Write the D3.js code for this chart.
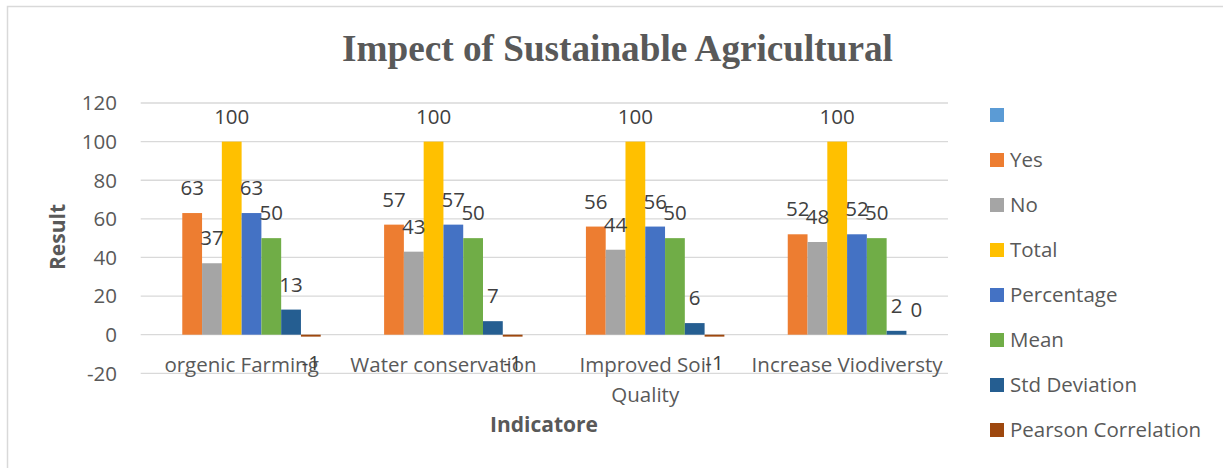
<!DOCTYPE html>
<html>
<head>
<meta charset="utf-8">
<script src="https://cdn.jsdelivr.net/npm/d3@7"></script>
<style>
  html, body { margin: 0; padding: 0; background: #fff; }
  svg { display: block; }
</style>
</head>
<body>
<svg id="chart" width="1223" height="468"></svg>
<script>
const categories = ["orgenic Farming", "Water conservation", "Improved Soil Quality", "Increase Viodiversty"];
const seriesNames = ["", "Yes", "No", "Total", "Percentage", "Mean", "Std Deviation", "Pearson Correlation"];
const seriesColors = ["#5B9BD5", "#ED7D31", "#A5A5A5", "#FFC000", "#4472C4", "#70AD47", "#255E91", "#9E480E"];
const blankValues = [null, null, null, null];
const yesValues = [63, 57, 56, 52];
const noValues = [37, 43, 44, 48];
const totalValues = [100, 100, 100, 100];
const percentageValues = [63, 57, 56, 52];
const meanValues = [50, 50, 50, 50];
const stdValues = [13, 7, 6, 2];
const pearsonValues = [-1, -1, -1, 0];
const yTicks = [-20, 0, 20, 40, 60, 80, 100, 120];
const titleText = "Impect of Sustainable Agricultural";
const yAxisTitle = "Result";
const xAxisTitle = "Indicatore";

const seriesValues = [blankValues, yesValues, noValues, totalValues, percentageValues, meanValues, stdValues, pearsonValues];

const svg = d3.select("#chart");
const bodyFont = "'Open Sans', sans-serif";

// chart border
svg.append("rect").attr("x", 7.5).attr("y", 6.5).attr("width", 1230).attr("height", 470)
  .attr("fill", "none").attr("stroke", "#d9d9d9").attr("stroke-width", 1.5);

const plotLeft = 140.7, plotRight = 948;
const y = d3.scaleLinear().domain([-20, 120]).range([373.3, 103]);
const x0 = d3.scaleBand().domain(categories).range([plotLeft, plotRight]).paddingInner(0.216).paddingOuter(0.108);
const x1 = d3.scaleBand().domain(seriesNames.map((d, i) => i)).range([0, x0.bandwidth()]);

// gridlines
svg.append("g").selectAll("line").data(yTicks).join("line")
  .attr("x1", plotLeft).attr("x2", plotRight)
  .attr("y1", d => y(d)).attr("y2", d => y(d))
  .attr("stroke", "#d9d9d9").attr("stroke-width", 1.3);

// y tick labels
svg.append("g").selectAll("text").data(yTicks).join("text")
  .attr("x", 117).attr("y", d => y(d)).attr("dy", "0.36em")
  .attr("text-anchor", "end")
  .attr("font-family", bodyFont).attr("font-size", 20.5).attr("fill", "#595959")
  .text(d => d);

// bars
const bars = [];
categories.forEach((c, ci) => {
  seriesValues.forEach((vals, si) => {
    const v = vals[ci];
    if (v === null || v === undefined) return;
    bars.push({ c, si, v });
  });
});

svg.append("g").selectAll("rect").data(bars).join("rect")
  .attr("x", d => x0(d.c) + x1(d.si))
  .attr("width", x1.bandwidth())
  .attr("y", d => Math.min(y(d.v), y(0)))
  .attr("height", d => Math.abs(y(d.v) - y(0)))
  .attr("fill", d => seriesColors[d.si]);

// category labels with wrapping
const catG = svg.append("g");
categories.forEach(c => {
  const t = catG.append("text")
    .attr("x", x0(c) + x0.bandwidth() / 2)
    .attr("y", 372)
    .attr("text-anchor", "middle")
    .attr("font-family", bodyFont).attr("font-size", 20.5).attr("fill", "#595959");
  const words = c.split(" ");
  let line = [];
  let tspan = t.append("tspan").attr("x", x0(c) + x0.bandwidth() / 2).attr("dy", 0);
  words.forEach(w => {
    line.push(w);
    tspan.text(line.join(" "));
    if (tspan.node().getComputedTextLength() > x0.step() + 2 && line.length > 1) {
      line.pop();
      tspan.text(line.join(" "));
      line = [w];
      tspan = t.append("tspan").attr("x", x0(c) + x0.bandwidth() / 2).attr("dy", 30).text(w);
    }
  });
});

// data labels
svg.append("g").selectAll("text").data(bars).join("text")
  .attr("x", d => x0(d.c) + x1(d.si) + x1.bandwidth() / 2)
  .attr("y", d => d.v >= 0 ? y(d.v) - 18 : y(d.v) + 33)
  .attr("text-anchor", "middle")
  .attr("font-family", bodyFont).attr("font-size", 20.5).attr("fill", "#404040")
  .text(d => d.v);

// title
const title = svg.append("text")
  .attr("x", 617.5).attr("y", 61)
  .attr("text-anchor", "middle")
  .attr("font-family", "'Liberation Serif', 'Times New Roman', serif")
  .attr("font-weight", "bold").attr("font-size", 37).attr("fill", "#595959")
  .text(titleText);
const tl = title.node().getComputedTextLength();
title.attr("font-size", 37 * 551 / tl);

// axis titles
svg.append("text")
  .attr("transform", "translate(65,237) rotate(-90)")
  .attr("text-anchor", "middle")
  .attr("font-family", bodyFont).attr("font-weight", "bold").attr("font-size", 21).attr("fill", "#595959")
  .text(yAxisTitle);

svg.append("text")
  .attr("x", 544).attr("y", 432)
  .attr("text-anchor", "middle")
  .attr("font-family", bodyFont).attr("font-weight", "bold").attr("font-size", 21).attr("fill", "#595959")
  .text(xAxisTitle);

// legend
const legend = svg.append("g").selectAll("g").data(seriesNames).join("g")
  .attr("transform", (d, i) => `translate(990, ${115 + i * 45})`);
legend.append("rect").attr("x", 0).attr("y", -7).attr("width", 14).attr("height", 14)
  .attr("fill", (d, i) => seriesColors[i]);
legend.append("text").attr("x", 20).attr("y", 0).attr("dy", "0.36em")
  .attr("font-family", bodyFont).attr("font-size", 20.5).attr("fill", "#595959")
  .text(d => d);
</script>
</body>
</html>
